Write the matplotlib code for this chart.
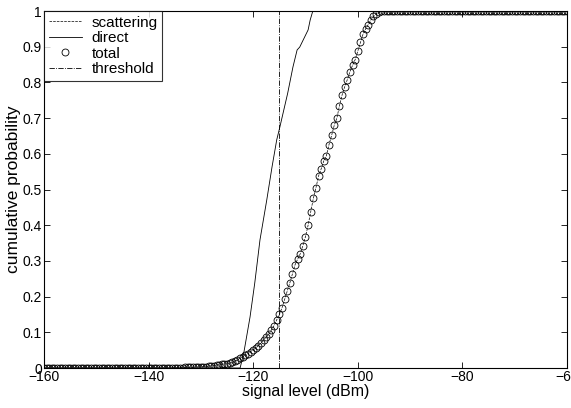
import numpy as np
import matplotlib
matplotlib.use("Agg")
import matplotlib.pyplot as plt

plt.rcParams['font.family'] = ['Liberation Sans', 'DejaVu Sans']

# total / scattering CDF, sampled every 0.5 dB from -160 to -60
level = np.arange(-160, -59.5, 0.5)
total_low = [0.0] * 50 + [0.001, 0.001, 0.001, 0.001, 0.002, 0.002, 0.002, 0.002, 0.003, 0.003]
total_rise = [0.003, 0.004, 0.004, 0.005, 0.006, 0.007, 0.008, 0.009, 0.010, 0.011,
              0.012, 0.014, 0.016, 0.019, 0.023, 0.028, 0.032, 0.036, 0.040, 0.046,
              0.051, 0.056, 0.063, 0.070, 0.079, 0.087, 0.095, 0.107, 0.119, 0.135,
              0.150, 0.168, 0.192, 0.215, 0.238, 0.263, 0.289, 0.305, 0.320, 0.343,
              0.368, 0.400, 0.438, 0.475, 0.505, 0.538, 0.558, 0.580, 0.595, 0.626,
              0.652, 0.680, 0.700, 0.735, 0.765, 0.788, 0.808, 0.830, 0.848, 0.864,
              0.888, 0.912, 0.935, 0.950, 0.962, 0.975, 0.985, 0.992, 0.996, 0.999,
              1.0]
total_high = [1.0] * 70
total = np.array(total_low + total_rise + total_high)
scattering = total.copy()

# direct path CDF
direct_x = [-160, -122.5, -121.8, -120.6, -119.7, -118.7, -117.4, -116.4, -115.5,
            -114.9, -113.4, -112.4, -111.6, -111.1, -109.5, -109.1, -108.6, -108.0]
direct_y = [0.0, 0.0, 0.042, 0.143, 0.238, 0.359, 0.471, 0.563, 0.639,
            0.675, 0.770, 0.843, 0.891, 0.899, 0.947, 0.975, 1.0, 1.0]

threshold = -115

fig = plt.figure(figsize=(5.71, 4.08), dpi=100)
ax = fig.add_axes([0.077, 0.098, 0.916, 0.875])

ax.plot(level, scattering, '--', color='black', linewidth=0.5, label='scattering')
ax.plot(direct_x, direct_y, '-', color='black', linewidth=0.6, label='direct')
ax.plot(level, total, 'o', markerfacecolor='none', markeredgecolor='black',
        markersize=5, markeredgewidth=0.6, label='total')
ax.plot([threshold, threshold], [0, 1], '-.', color='black', linewidth=0.6, label='threshold')

ax.set_xlim(-160, -60)
ax.set_ylim(0, 1)
ax.set_xticks(np.arange(-160, -59, 20))
ax.set_yticks(np.arange(0, 1.01, 0.1))
ax.set_yticklabels(['0', '0.1', '0.2', '0.3', '0.4', '0.5', '0.6', '0.7', '0.8', '0.9', '1'])
ax.tick_params(direction='in', top=True, right=True, labelsize=10, length=4, width=0.6, pad=1.5)
for s in ax.spines.values():
    s.set_linewidth(0.8)
ax.set_xlabel('signal level (dBm)', fontsize=11.5, labelpad=0)
ax.set_ylabel('cumulative probability', fontsize=12.5, labelpad=1)

leg = ax.legend(loc='upper left', fontsize=11, frameon=True, fancybox=False,
                borderaxespad=0, handlelength=2.2, borderpad=0.3, labelspacing=0.1,
                handletextpad=0.6)
leg.get_frame().set_edgecolor('black')
leg.get_frame().set_linewidth(0.8)

fig.savefig('out.png', dpi=100)
